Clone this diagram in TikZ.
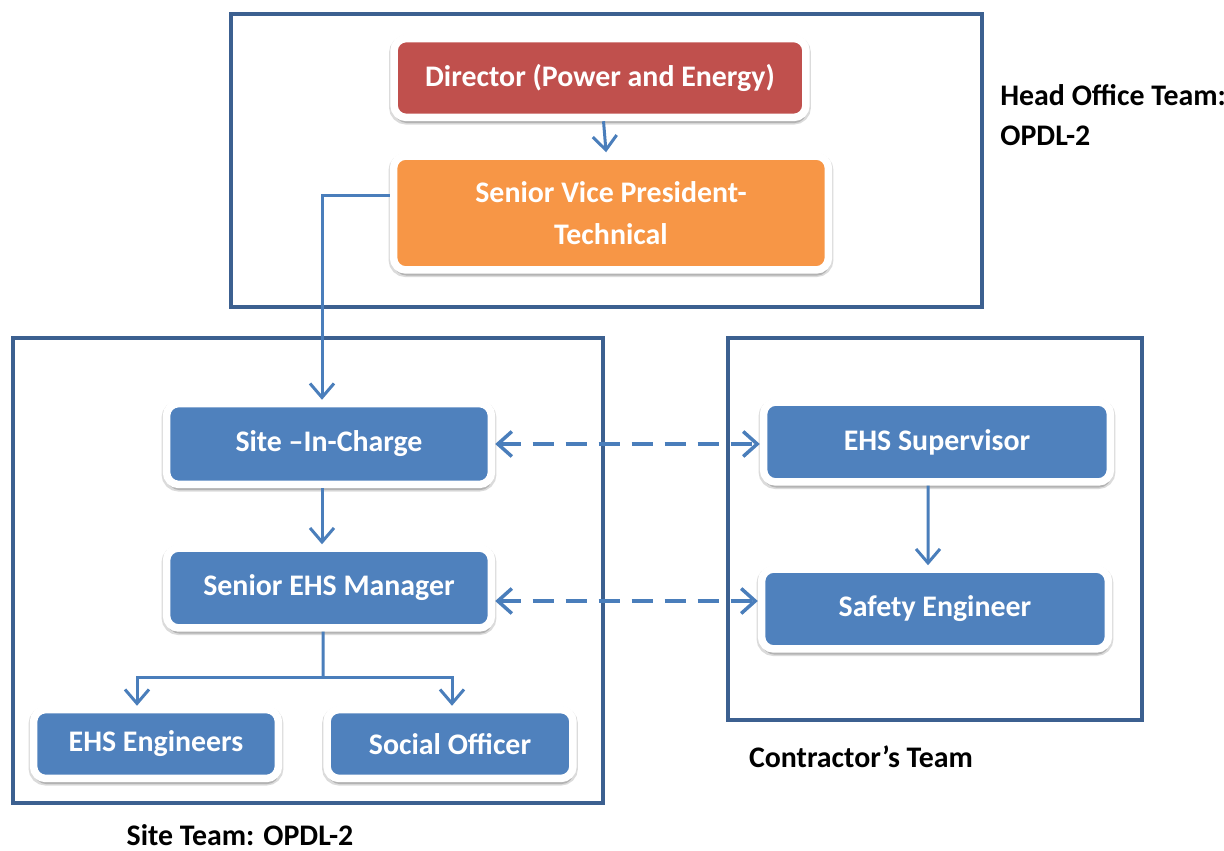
\documentclass[tikz,border=0pt]{standalone}
\usepackage{fontspec}
\setmainfont{Carlito}
\usetikzlibrary{arrows.meta,shadows}
\definecolor{frameblue}{HTML}{3C6090}
\definecolor{boxblue}{HTML}{4F81BD}
\definecolor{linkblue}{HTML}{4A7EBB}
\definecolor{boxred}{HTML}{C0504D}
\definecolor{boxorange}{HTML}{F79646}
\tikzset{
  unit/.style={draw=white,line width=0.15cm,rounded corners=7pt,text=white,
    font=\fontsize{17}{24}\selectfont\bfseries,align=center,
    preaction={draw=black!14,line width=0.2cm,transform canvas={yshift=-1.2pt}},
    drop shadow={shadow xshift=0.4pt,shadow yshift=-3.2pt,opacity=0.18,fill=black}},
  frame/.style={draw=frameblue,line width=0.08cm},
  link/.style={draw=linkblue,line width=0.06cm,-{Straight Barb[length=2.8mm,width=4.8mm,line width=0.06cm]}},
  both/.style={draw=linkblue,line width=0.09cm,dash pattern=on 0.42cm off 0.24cm,
    {Straight Barb[length=2.8mm,width=5mm,line width=0.07cm]}-{Straight Barb[length=2.8mm,width=5mm,line width=0.07cm]}},
  team/.style={font=\fontsize{17}{22.7}\selectfont\bfseries,align=left,inner sep=0pt}
}
\begin{document}
\begin{tikzpicture}[x=0.02cm,y=-0.02cm]
\useasboundingbox (0,0) rectangle (1224,851);
% frames
\draw[frame] (231,14) rectangle (982,307);
\draw[frame] (13,338) rectangle (603,803);
\draw[frame] (728,338) rectangle (1142,720);
% head office
\node[unit,fill=boxred,minimum width=8.24cm,minimum height=1.58cm] (dir) at (600,78) {Director (Power and Energy)};
\node[unit,fill=boxorange,minimum width=8.70cm,minimum height=2.28cm] (svp) at (611,213) {Senior Vice President-\\Technical};
% site team
\node[unit,fill=boxblue,minimum width=6.50cm,minimum height=1.62cm] (sic) at (329,444) {Site --In-Charge};
\node[unit,fill=boxblue,minimum width=6.50cm,minimum height=1.60cm] (sem) at (329,588) {Senior EHS Manager};
\node[unit,fill=boxblue,minimum width=4.90cm,minimum height=1.38cm] (eng) at (156,744) {EHS Engineers};
\node[unit,fill=boxblue,minimum width=4.92cm,minimum height=1.38cm] (soc) at (450,744) {Social Officer};
% contractor team
\node[unit,fill=boxblue,minimum width=6.94cm,minimum height=1.60cm] (sup) at (937,442) {EHS Supervisor};
\node[unit,fill=boxblue,minimum width=6.94cm,minimum height=1.60cm] (saf) at (935,609) {Safety Engineer};
% labels
\node[team,anchor=west] (hot) at (1000,115) {Head Office Team:\\OPDL-2};
\node[team] (ct) at (861,757) {Contractor’s Team};
\node[team] (st) at (240,835) {Site Team: OPDL-2};
% links
\draw[link] (dir) -- (svp);
\draw[link] ([yshift=0.36cm]svp.west) -| ([xshift=-0.14cm]sic.north);
\draw[link] ([xshift=-0.14cm]sic.south) -- ([xshift=-0.14cm]sem.north);
\coordinate (fork) at (323,677);
\draw[draw=linkblue,line width=0.06cm] ([xshift=-0.12cm]sem.south) -- (fork);
\draw[link] (fork) -| ([xshift=-0.38cm]eng.north);
\draw[link] (fork) -| ([xshift=0.04cm]soc.north);
\draw[link] ([xshift=-0.18cm]sup.south) -- ([xshift=-0.14cm]saf.north);
\draw[both] (sic.east) -- (sic.east -| sup.west);
\draw[both] ([yshift=-0.26cm]sem.east) -- ([yshift=-0.26cm]sem.east -| saf.west);
\end{tikzpicture}
\end{document}
